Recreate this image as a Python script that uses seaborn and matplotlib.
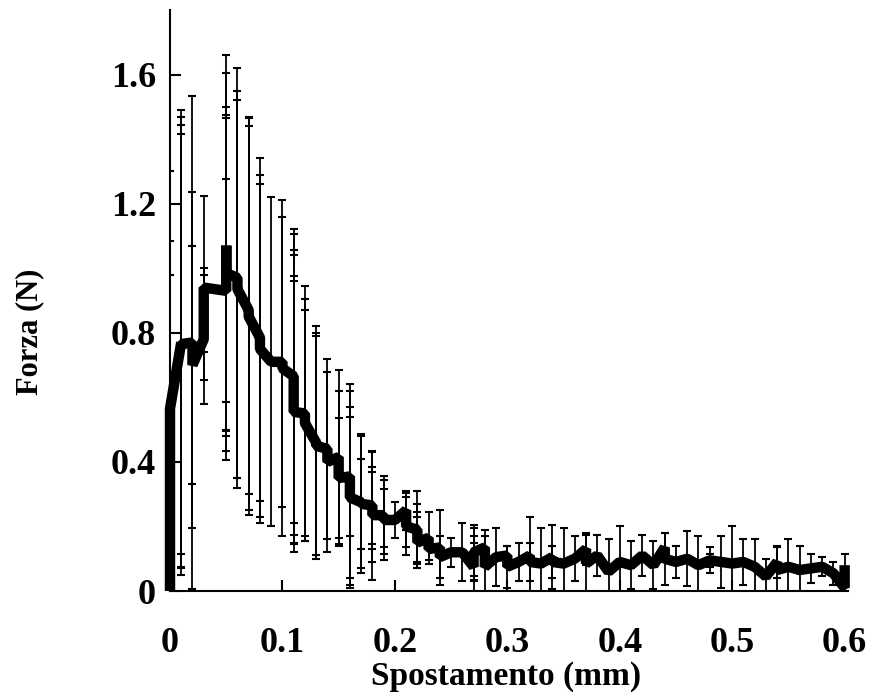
import matplotlib
matplotlib.use("Agg")
import matplotlib.pyplot as plt
import seaborn as sns
import numpy as np
import pandas as pd

# ---- data ----
x_mm = [
    0.00, 0.00, 0.00, 0.00, 0.00,
    0.01, 0.01, 0.01, 0.01,
    0.02, 0.02, 0.02,
    0.03, 0.03, 0.03,
    0.05, 0.05, 0.05, 0.05, 0.05, 0.05,
    0.06, 0.06, 0.06,
    0.07, 0.07, 0.07,
    0.08, 0.08, 0.08,
    0.09,
    0.10, 0.10,
    0.11, 0.11, 0.11, 0.11, 0.11, 0.11,
    0.12, 0.12, 0.12,
    0.13, 0.13, 0.13,
    0.14, 0.14,
    0.15, 0.15, 0.15,
    0.16, 0.16, 0.16, 0.16,
    0.17, 0.17, 0.17,
    0.18, 0.18, 0.18, 0.18,
    0.19, 0.19, 0.19,
    0.20,
    0.21, 0.21, 0.21,
    0.22, 0.22, 0.22, 0.22,
    0.23, 0.23,
    0.24, 0.24,
    0.25,
    0.26,
    0.27, 0.27, 0.27, 0.27,
    0.28, 0.28,
    0.29,
    0.30, 0.30,
    0.31,
    0.32, 0.32,
    0.33,
    0.34, 0.34,
    0.35,
    0.36,
    0.37, 0.37,
    0.38,
    0.39,
    0.40,
    0.41,
    0.42,
    0.43,
    0.44, 0.44,
    0.45,
    0.46,
    0.47,
    0.48, 0.48,
    0.49,
    0.50,
    0.51,
    0.52,
    0.53,
    0.54, 0.54,
    0.55,
    0.56,
    0.57,
    0.58,
    0.59,
    0.60, 0.60,
]
forza_mean = [
    0.00, 0.30, 0.55, 0.565, 0.565,
    0.77, 0.77, 0.76, 0.765,
    0.77, 0.715, 0.70,
    0.78, 0.87, 0.94,
    0.93, 0.935, 1.00, 1.02, 1.07, 0.985,
    0.97, 0.95, 0.935,
    0.87, 0.86, 0.85,
    0.785, 0.77, 0.75,
    0.71,
    0.71, 0.69,
    0.665, 0.64, 0.60, 0.58, 0.56, 0.555,
    0.55, 0.53, 0.52,
    0.46, 0.455, 0.45,
    0.44, 0.40,
    0.415, 0.38, 0.35,
    0.355, 0.34, 0.32, 0.29,
    0.275, 0.27, 0.27,
    0.265, 0.26, 0.25, 0.235,
    0.235, 0.225, 0.22,
    0.22,
    0.25, 0.22, 0.20,
    0.19, 0.18, 0.165, 0.15,
    0.165, 0.13,
    0.135, 0.105,
    0.12,
    0.12,
    0.075, 0.10, 0.12, 0.12,
    0.135, 0.075,
    0.105,
    0.11, 0.075,
    0.09,
    0.11, 0.09,
    0.085,
    0.105, 0.09,
    0.085,
    0.10,
    0.13, 0.085,
    0.11,
    0.06,
    0.09,
    0.08,
    0.11,
    0.08,
    0.135, 0.10,
    0.09,
    0.10,
    0.08,
    0.095, 0.095,
    0.09,
    0.085,
    0.09,
    0.075,
    0.045,
    0.09, 0.065,
    0.075,
    0.065,
    0.07,
    0.075,
    0.055,
    0.01, 0.08,
]
forza_sd = [
    0.00, 0.14, 0.43, 0.52, 0.735,
    0.72, 0.70, 0.685, 0.65,
    0.765, 0.52, 0.37,
    0.20, 0.13, 0.285,
    0.345, 0.53, 0.50, 0.585, 0.59, 0.49,
    0.65, 0.60, 0.585,
    0.57, 0.61, 0.615,
    0.555, 0.49, 0.54,
    0.51,
    0.45, 0.52,
    0.455, 0.465, 0.455, 0.46, 0.415, 0.405,
    0.395, 0.375, 0.35,
    0.36, 0.345, 0.34,
    0.28, 0.28,
    0.27, 0.24, 0.185,
    0.185, 0.30, 0.30, 0.28,
    0.205, 0.215, 0.14,
    0.12, 0.17, 0.12, 0.20,
    0.12, 0.09, 0.125,
    0.055,
    0.06, 0.085, 0.09,
    0.12, 0.09, 0.08, 0.08,
    0.08, 0.035,
    0.115, 0.065,
    0.045,
    0.09,
    0.075, 0.07, 0.075, 0.085,
    0.055, 0.095,
    0.09,
    0.03, 0.065,
    0.06,
    0.12, 0.06,
    0.11,
    0.10, 0.05,
    0.11,
    0.07,
    0.05, 0.09,
    0.065,
    0.10,
    0.11,
    0.075,
    0.065,
    0.075,
    0.045, 0.08,
    0.05,
    0.085,
    0.09,
    0.02, 0.04,
    0.08,
    0.115,
    0.07,
    0.085,
    0.055,
    0.05, 0.07,
    0.085,
    0.075,
    0.045,
    0.03,
    0.035,
    0.02, 0.035,
]
x_ticks = [0, 0.1, 0.2, 0.3, 0.4, 0.5, 0.6]
x_tick_labels = ["0", "0.1", "0.2", "0.3", "0.4", "0.5", "0.6"]
y_ticks = [0, 0.4, 0.8, 1.2, 1.6]
y_tick_labels = ["0", "0.4", "0.8", "1.2", "1.6"]

df = pd.DataFrame({"x": x_mm, "y": forza_mean, "sd": forza_sd})

sns.set_style("ticks")
plt.rcParams["font.family"] = ["Liberation Serif", "DejaVu Serif"]
plt.rcParams["font.weight"] = "bold"
for k in ["text.color", "axes.labelcolor", "xtick.color", "ytick.color",
          "xtick.labelcolor", "ytick.labelcolor", "axes.edgecolor"]:
    plt.rcParams[k] = "black"

fig = plt.figure(figsize=(8.7, 6.93), dpi=100)
ax = fig.add_axes([170 / 870, 1 - 591 / 693, (848 - 170) / 870, (591 - 10) / 693])

ax.errorbar(df["x"], df["y"], yerr=df["sd"], fmt="none", ecolor="black",
            elinewidth=1.3, capsize=3, capthick=1.5, zorder=2)
n_before = len(ax.get_lines())
sns.lineplot(data=df, x="x", y="y", sort=False, estimator=None, color="black",
             linewidth=7.5, ax=ax, zorder=3)
for ln in ax.get_lines()[n_before:]:
    ln.set_solid_joinstyle("bevel")
    ln.set_solid_capstyle("butt")
    ln.set_clip_on(False)

ax.set_xlim(0, 0.603)
ax.set_ylim(0, 1.8)
ax.set_xticks(x_ticks)
ax.set_xticklabels(x_tick_labels)
ax.set_yticks(y_ticks)
ax.set_yticklabels(y_tick_labels)
ax.tick_params(axis="both", direction="in", length=8, width=1.5, labelsize=26,
               colors="black")
ax.tick_params(axis="x", pad=26)
ax.tick_params(axis="y", pad=10)
for lab in ax.get_xticklabels() + ax.get_yticklabels():
    lab.set_fontweight("bold")

for s in ["top", "right"]:
    ax.spines[s].set_visible(False)
for s in ["left", "bottom"]:
    ax.spines[s].set_linewidth(1.5)
    ax.spines[s].set_color("black")

ax.set_xlabel("Spostamento (mm)", fontsize=24, fontweight="bold", color="black")
ax.set_ylabel("Forza (N)", fontsize=22, fontweight="bold", color="black")
ax.xaxis.set_label_coords(0.495, (591 - 677) / 581, transform=ax.transAxes)
ax.yaxis.set_label_coords((30 - 170) / 678, (591 - 332) / 581, transform=ax.transAxes)
ax.xaxis.label.set_va("center")
ax.yaxis.label.set_va("center")

fig.savefig("out.png", dpi=100, facecolor="white")
